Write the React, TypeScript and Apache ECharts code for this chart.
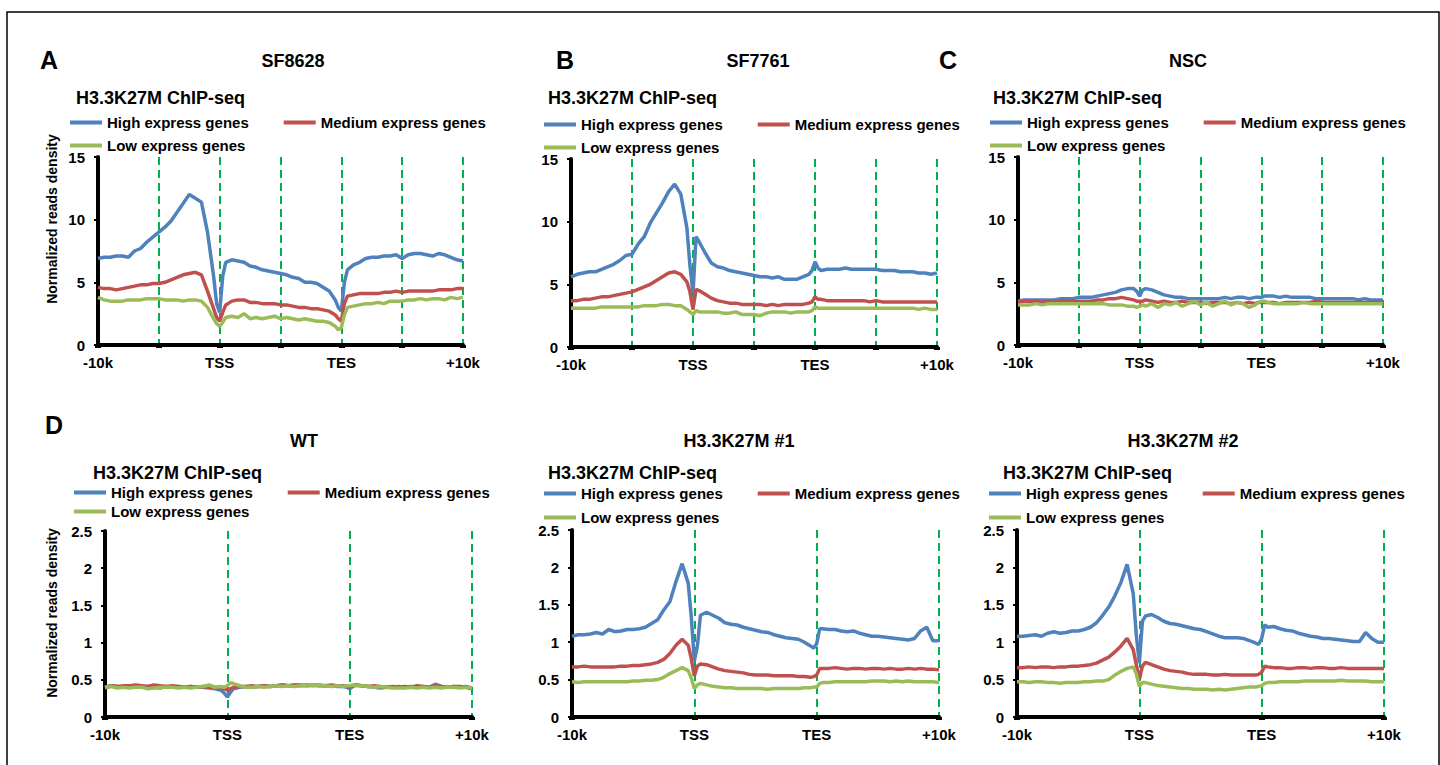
import React, { useEffect, useRef } from "react";
import * as echarts from "echarts";

// shared x positions (bins from -10k .. TSS(20) .. TES(40) .. +10k(60))
const xs = [
  0, 1, 2, 3, 4, 5, 6, 7, 8, 9, 10, 11, 12, 13, 14, 15, 16, 17, 18, 19,
  19.5, 20, 20.5,
  21, 22, 23, 24, 25, 26, 27, 28, 29, 30, 31, 32, 33, 34, 35, 36, 37, 38, 39,
  39.5, 40, 40.5,
  41, 42, 43, 44, 45, 46, 47, 48, 49, 50, 51, 52, 53, 54, 55, 56, 57, 58, 59, 60,
];

const xTickValues = [0, 20, 40, 60];
const xTickLabels = ["-10k", "TSS", "TES", "+10k"];
const seriesNames = ["High express genes", "Medium express genes", "Low express genes"];

// Panel A: SF8628
const highA = [6.9,7.0,7.0,7.1,7.1,7.0,7.5,7.7,8.2,8.6,9.0,9.4,9.9,10.6,11.3,12.0,11.7,11.4,9.0,5.5, 3.3,2.6,5.5, 6.6,6.8,6.7,6.6,6.3,6.2,6.0,5.9,5.8,5.7,5.6,5.4,5.3,5.0,5.0,4.9,4.6,4.3,3.6, 3.0,2.7,5.0, 6.0,6.4,6.6,6.9,7.0,7.0,7.1,7.1,7.2,6.9,7.2,7.3,7.3,7.2,7.1,7.3,7.2,7.0,6.8,6.7];
const medA = [4.6,4.5,4.5,4.4,4.5,4.6,4.7,4.8,4.8,4.9,4.9,5.0,5.2,5.4,5.6,5.7,5.8,5.6,4.3,2.9, 2.2,1.9,2.6, 3.2,3.5,3.6,3.6,3.4,3.4,3.3,3.3,3.3,3.2,3.2,3.1,3.0,3.0,2.9,2.9,2.8,2.7,2.4, 2.1,1.9,3.3, 3.9,4.0,4.1,4.1,4.1,4.1,4.2,4.2,4.3,4.2,4.3,4.3,4.3,4.3,4.3,4.4,4.4,4.4,4.5,4.5];
const lowA = [3.8,3.6,3.5,3.5,3.5,3.6,3.6,3.6,3.7,3.7,3.7,3.6,3.6,3.6,3.5,3.6,3.6,3.5,3.0,2.1, 1.7,1.5,1.8, 2.2,2.3,2.2,2.5,2.1,2.2,2.1,2.2,2.3,2.1,2.2,2.1,2.0,2.1,2.0,1.9,1.9,1.8,1.5, 1.2,1.4,2.4, 3.0,3.1,3.2,3.3,3.3,3.4,3.3,3.5,3.5,3.5,3.6,3.6,3.7,3.6,3.7,3.7,3.6,3.8,3.7,3.8];

// Panel B: SF7761
const highB = [5.6,5.8,5.9,6.0,6.0,6.2,6.4,6.6,6.9,7.3,7.4,8.2,8.8,9.9,10.7,11.5,12.4,13.0,12.2,9.5, 6.5,4.3,8.8, 8.4,7.5,6.7,6.4,6.3,6.1,6.0,5.9,5.8,5.7,5.6,5.6,5.5,5.6,5.4,5.4,5.4,5.6,5.8, 6.1,6.8,6.3, 6.1,6.2,6.2,6.2,6.3,6.2,6.2,6.2,6.2,6.2,6.1,6.1,6.1,6.0,6.0,6.0,5.9,5.9,5.8,5.9];
const medB = [3.7,3.7,3.8,3.8,3.9,4.0,4.0,4.1,4.2,4.3,4.4,4.6,4.8,5.0,5.3,5.6,5.9,6.0,5.8,5.2, 4.4,3.0,4.6, 4.5,4.2,3.9,3.7,3.6,3.5,3.5,3.4,3.4,3.4,3.4,3.3,3.4,3.3,3.4,3.4,3.4,3.4,3.5, 3.6,4.0,3.8, 3.8,3.7,3.7,3.7,3.7,3.7,3.7,3.7,3.6,3.7,3.6,3.6,3.6,3.6,3.6,3.6,3.6,3.6,3.6,3.6];
const lowB = [3.1,3.1,3.1,3.1,3.1,3.2,3.2,3.2,3.2,3.2,3.2,3.2,3.3,3.3,3.3,3.4,3.4,3.3,3.3,3.0, 2.8,2.6,2.9, 2.8,2.8,2.8,2.8,2.7,2.7,2.8,2.6,2.6,2.6,2.5,2.7,2.8,2.8,2.8,2.7,2.8,2.8,2.8, 2.9,3.2,3.1, 3.1,3.1,3.1,3.1,3.1,3.1,3.1,3.1,3.1,3.1,3.1,3.1,3.1,3.1,3.1,3.1,3.0,3.1,3.0,3.0];

// Panel C: NSC
const highC = [3.5,3.6,3.6,3.6,3.6,3.6,3.6,3.7,3.7,3.7,3.8,3.8,3.8,3.9,4.0,4.1,4.2,4.4,4.5,4.5, 4.3,3.9,4.4, 4.5,4.4,4.2,4.0,3.9,3.8,3.8,3.7,3.7,3.7,3.7,3.7,3.7,3.8,3.7,3.8,3.8,3.7,3.8, 3.8,3.8,3.9, 3.9,3.9,3.8,3.9,3.8,3.8,3.8,3.8,3.7,3.7,3.7,3.7,3.7,3.7,3.7,3.6,3.7,3.6,3.6,3.6];
const medC = [3.4,3.5,3.5,3.5,3.4,3.5,3.4,3.5,3.5,3.5,3.5,3.5,3.5,3.6,3.6,3.7,3.7,3.8,3.7,3.6, 3.5,3.5,3.5, 3.6,3.5,3.4,3.5,3.4,3.4,3.5,3.4,3.4,3.4,3.3,3.4,3.4,3.4,3.3,3.4,3.3,3.4,3.3, 3.4,3.4,3.4, 3.4,3.4,3.3,3.4,3.4,3.4,3.4,3.4,3.5,3.4,3.4,3.4,3.4,3.4,3.4,3.4,3.4,3.4,3.4,3.4];
const lowC = [3.2,3.2,3.2,3.3,3.2,3.3,3.3,3.3,3.3,3.3,3.3,3.3,3.3,3.3,3.3,3.2,3.2,3.2,3.1,3.1, 3.0,3.1,3.2, 3.1,3.3,3.0,3.3,3.2,3.4,3.1,3.3,3.5,3.2,3.4,3.1,3.3,3.5,3.2,3.4,3.3,3.0,3.2, 3.4,3.5,3.5, 3.4,3.3,3.3,3.3,3.3,3.3,3.4,3.3,3.3,3.3,3.3,3.3,3.3,3.3,3.3,3.3,3.3,3.3,3.3,3.3];

// Panel D: WT
const highD = [0.40,0.42,0.41,0.40,0.42,0.41,0.40,0.41,0.40,0.39,0.41,0.40,0.41,0.40,0.41,0.40,0.40,0.39,0.38,0.36, 0.32,0.27,0.33, 0.38,0.40,0.41,0.40,0.41,0.42,0.41,0.42,0.43,0.42,0.43,0.42,0.43,0.42,0.43,0.42,0.42,0.41,0.41, 0.40,0.38,0.41, 0.43,0.42,0.41,0.40,0.39,0.40,0.40,0.41,0.40,0.41,0.40,0.41,0.40,0.44,0.41,0.40,0.41,0.40,0.41,0.39];
const medD = [0.39,0.42,0.41,0.42,0.42,0.43,0.42,0.41,0.43,0.42,0.41,0.42,0.41,0.40,0.41,0.40,0.41,0.40,0.40,0.39, 0.38,0.36,0.38, 0.40,0.41,0.41,0.42,0.41,0.42,0.41,0.42,0.43,0.42,0.43,0.43,0.42,0.43,0.42,0.42,0.43,0.42,0.42, 0.41,0.41,0.42, 0.43,0.42,0.41,0.42,0.41,0.40,0.41,0.40,0.41,0.40,0.42,0.41,0.40,0.42,0.41,0.40,0.41,0.41,0.40,0.38];
const lowD = [0.40,0.41,0.39,0.40,0.39,0.40,0.40,0.38,0.39,0.40,0.40,0.40,0.39,0.40,0.39,0.40,0.41,0.43,0.40,0.41, 0.40,0.42,0.46, 0.45,0.42,0.40,0.40,0.41,0.40,0.41,0.42,0.41,0.42,0.41,0.42,0.42,0.43,0.42,0.42,0.41,0.42,0.41, 0.42,0.42,0.43, 0.42,0.42,0.41,0.40,0.41,0.40,0.39,0.39,0.39,0.40,0.39,0.40,0.39,0.40,0.39,0.40,0.40,0.39,0.40,0.39];

// Panel E: H3.3K27M #1
const highE = [1.08,1.10,1.10,1.11,1.13,1.11,1.17,1.14,1.15,1.17,1.17,1.18,1.20,1.25,1.30,1.43,1.54,1.81,2.05,1.79, 1.34,0.75,0.95, 1.36,1.40,1.36,1.32,1.26,1.24,1.23,1.20,1.18,1.16,1.14,1.13,1.10,1.08,1.06,1.05,1.04,1.00,0.95, 0.92,0.98,1.18, 1.18,1.17,1.17,1.15,1.14,1.15,1.12,1.10,1.08,1.08,1.07,1.06,1.05,1.04,1.03,1.05,1.15,1.20,1.02,1.02];
const medE = [0.67,0.67,0.68,0.67,0.67,0.67,0.67,0.67,0.68,0.68,0.69,0.69,0.70,0.71,0.73,0.77,0.85,0.96,1.04,0.96, 0.78,0.55,0.68, 0.71,0.70,0.67,0.64,0.62,0.61,0.60,0.59,0.57,0.56,0.56,0.56,0.55,0.55,0.55,0.55,0.54,0.54,0.53, 0.54,0.56,0.65, 0.65,0.65,0.66,0.65,0.64,0.65,0.65,0.64,0.65,0.65,0.64,0.65,0.64,0.64,0.65,0.64,0.65,0.64,0.64,0.63];
const lowE = [0.47,0.46,0.47,0.47,0.47,0.47,0.47,0.47,0.47,0.47,0.48,0.48,0.49,0.49,0.50,0.53,0.58,0.62,0.66,0.62, 0.52,0.38,0.43, 0.45,0.43,0.41,0.40,0.39,0.39,0.38,0.38,0.38,0.38,0.38,0.37,0.38,0.38,0.38,0.38,0.38,0.39,0.39, 0.40,0.40,0.45, 0.46,0.46,0.47,0.47,0.47,0.47,0.47,0.47,0.48,0.48,0.48,0.47,0.48,0.47,0.48,0.47,0.47,0.47,0.47,0.46];

// Panel F: H3.3K27M #2
const highF = [1.08,1.08,1.09,1.10,1.08,1.12,1.14,1.12,1.13,1.15,1.15,1.17,1.20,1.26,1.36,1.47,1.62,1.80,2.04,1.65, 1.10,0.72,1.28, 1.35,1.37,1.33,1.28,1.25,1.24,1.22,1.20,1.18,1.17,1.14,1.11,1.08,1.06,1.06,1.06,1.05,1.02,0.99, 0.97,1.05,1.23, 1.20,1.21,1.18,1.16,1.15,1.12,1.10,1.08,1.07,1.05,1.05,1.04,1.03,1.02,1.01,1.01,1.13,1.05,1.00,1.00];
const medF = [0.66,0.66,0.67,0.66,0.67,0.67,0.66,0.67,0.67,0.68,0.68,0.69,0.70,0.72,0.76,0.80,0.87,0.95,1.05,0.90, 0.70,0.50,0.68, 0.73,0.70,0.67,0.64,0.62,0.61,0.60,0.58,0.57,0.57,0.57,0.56,0.56,0.57,0.56,0.56,0.56,0.56,0.56, 0.57,0.60,0.68, 0.67,0.66,0.66,0.65,0.65,0.66,0.66,0.65,0.66,0.66,0.65,0.65,0.66,0.65,0.65,0.65,0.65,0.65,0.65,0.65];
const lowF = [0.47,0.47,0.46,0.47,0.47,0.46,0.46,0.45,0.46,0.46,0.46,0.47,0.47,0.48,0.48,0.50,0.56,0.61,0.65,0.67, 0.58,0.41,0.46, 0.46,0.44,0.42,0.41,0.40,0.39,0.38,0.38,0.37,0.37,0.37,0.36,0.37,0.36,0.37,0.38,0.39,0.40,0.40, 0.41,0.42,0.45, 0.46,0.46,0.47,0.47,0.47,0.47,0.48,0.48,0.48,0.48,0.48,0.48,0.49,0.48,0.48,0.48,0.48,0.47,0.47,0.47];

const COLORS = ["#4F81BD", "#C0504D", "#9BBB59"];
const FONT = "Liberation Sans, Arial, Helvetica, sans-serif";

const panels = [
  { letter: "A", letterPos: [49, 60], title: "SF8628", titlePos: [293, 61], sub: [76, 98], grid: { left: 98, top: 157, width: 365, height: 188 }, yMax: 15, yInt: 5, xInt: 10, legend: [70, 123, 146], series: [highA, medA, lowA], yName: [52, 219] },
  { letter: "B", letterPos: [565, 60], title: "SF7761", titlePos: [758, 61], sub: [548, 98], grid: { left: 571, top: 159, width: 366, height: 188 }, yMax: 15, yInt: 5, xInt: 10, legend: [544, 125, 148], series: [highB, medB, lowB], yName: null },
  { letter: "C", letterPos: [948, 60], title: "NSC", titlePos: [1188, 61], sub: [993, 98], grid: { left: 1018, top: 157, width: 365, height: 188 }, yMax: 15, yInt: 5, xInt: 10, legend: [990, 123, 146], series: [highC, medC, lowC], yName: null },
  { letter: "D", letterPos: [54, 425], title: "WT", titlePos: [304, 441], sub: [93, 473], grid: { left: 105, top: 531, width: 367, height: 186 }, yMax: 2.5, yInt: 0.5, xInt: 20, legend: [74, 493, 512], series: [highD, medD, lowD], yName: [52, 613] },
  { letter: "", letterPos: [0, 0], title: "H3.3K27M #1", titlePos: [739, 441], sub: [548, 473], grid: { left: 572, top: 530, width: 367, height: 187 }, yMax: 2.5, yInt: 0.5, xInt: 20, legend: [544, 494, 518], series: [highE, medE, lowE], yName: null },
  { letter: "", letterPos: [0, 0], title: "H3.3K27M #2", titlePos: [1183, 441], sub: [1003, 473], grid: { left: 1017, top: 530, width: 367, height: 187 }, yMax: 2.5, yInt: 0.5, xInt: 20, legend: [989, 494, 518], series: [highF, medF, lowF], yName: null },
];

function buildOption() {
  const grids: any[] = [];
  const xAxes: any[] = [];
  const yAxes: any[] = [];
  const series: any[] = [];
  const legends: any[] = [];
  const graphics: any[] = [];

  graphics.push({
    type: "rect",
    shape: { x: 7, y: 12, width: 1432, height: 800 },
    style: { fill: "none", stroke: "#000", lineWidth: 1.5 },
    silent: true,
  });

  panels.forEach((p, i) => {
    grids.push({ ...p.grid, containLabel: false });
    xAxes.push({
      type: "value",
      gridIndex: i,
      min: 0,
      max: 60,
      interval: p.xInt,
      axisLine: { show: true, lineStyle: { color: "#000", width: 4 } },
      axisTick: { show: true, length: 3, lineStyle: { color: "#000", width: 6 } },
      axisLabel: {
        margin: 10,
        color: "#000",
        fontSize: 15,
        fontWeight: "bold",
        fontFamily: FONT,
        formatter: (v: number) => {
          const k = xTickValues.indexOf(v);
          return k >= 0 ? xTickLabels[k] : "";
        },
      },
      splitLine: { show: true, lineStyle: { color: "#00B050", type: [8, 5], width: 2 } },
    });
    yAxes.push({
      type: "value",
      gridIndex: i,
      min: 0,
      max: p.yMax,
      interval: p.yInt,
      axisLine: { show: true, lineStyle: { color: "#000", width: 4 } },
      axisTick: { show: true, length: 4, lineStyle: { color: "#000", width: 2 } },
      axisLabel: { margin: 13, color: "#000", fontSize: 15, fontWeight: "bold", fontFamily: FONT },
      splitLine: { show: false },
    });
    p.series.forEach((vals, k) => {
      series.push({
        type: "line",
        name: seriesNames[k],
        xAxisIndex: i,
        yAxisIndex: i,
        data: xs.map((x, j) => [x, vals[j]]),
        showSymbol: false,
        symbol: "none",
        lineStyle: { color: COLORS[k], width: 3.5 },
        itemStyle: { color: COLORS[k] },
        z: 3 + k,
      });
    });
    const legendBase = {
      orient: "horizontal",
      itemGap: 35,
      itemWidth: 32,
      itemHeight: 4,
      icon: "rect",
      padding: 0,
      selectedMode: false,
      textStyle: { color: "#000", fontSize: 15, fontWeight: "bold", fontFamily: FONT },
    };
    legends.push({ ...legendBase, left: p.legend[0], top: p.legend[1] - 8, data: [seriesNames[0], seriesNames[1]] });
    legends.push({ ...legendBase, left: p.legend[0], top: p.legend[2] - 8, data: [seriesNames[2]] });

    if (p.letter) {
      graphics.push({
        type: "text",
        x: p.letterPos[0],
        y: p.letterPos[1],
        style: { text: p.letter, fill: "#000", font: `bold 25px ${FONT}`, textAlign: "center", textVerticalAlign: "middle" },
      });
    }
    graphics.push({
      type: "text",
      x: p.titlePos[0],
      y: p.titlePos[1],
      style: { text: p.title, fill: "#000", font: `bold 18px ${FONT}`, textAlign: "center", textVerticalAlign: "middle" },
    });
    graphics.push({
      type: "text",
      x: p.sub[0],
      y: p.sub[1],
      style: { text: "H3.3K27M ChIP-seq", fill: "#000", font: `bold 18px ${FONT}`, textAlign: "left", textVerticalAlign: "middle" },
    });
    if (p.yName) {
      graphics.push({
        type: "text",
        x: p.yName[0],
        y: p.yName[1],
        rotation: Math.PI / 2,
        style: { text: "Normalized reads density", fill: "#000", font: `bold 14px ${FONT}`, textAlign: "center", textVerticalAlign: "middle" },
      });
    }
  });

  return {
    animation: false,
    backgroundColor: "#fff",
    grid: grids,
    xAxis: xAxes,
    yAxis: yAxes,
    legend: legends,
    series,
    graphic: graphics,
  };
}

export default function App() {
  const ref = useRef<HTMLDivElement>(null);
  useEffect(() => {
    if (!ref.current) return;
    const chart = echarts.init(ref.current, undefined, { renderer: "svg" });
    chart.setOption(buildOption() as any);
    return () => chart.dispose();
  }, []);
  return <div ref={ref} style={{ position: "absolute", left: 0, top: 0, width: 1440, height: 765 }} />;
}
